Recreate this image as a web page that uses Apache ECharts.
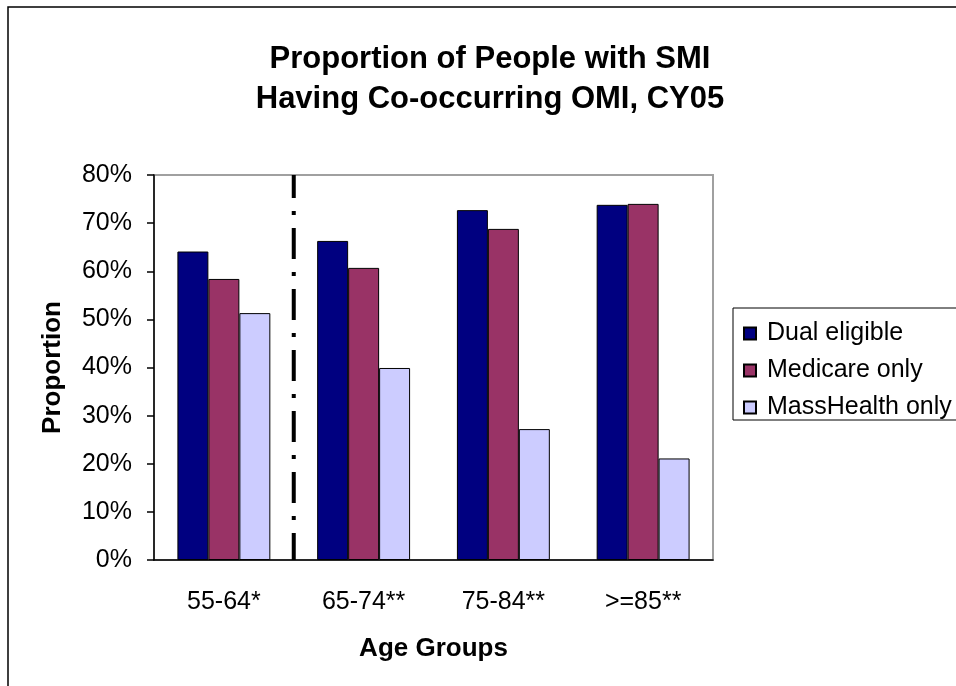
<!DOCTYPE html>
<html>
<head>
<meta charset="utf-8">
<script src="https://cdn.jsdelivr.net/npm/echarts@6/dist/echarts.min.js"></script>
<style>
  html, body { margin: 0; padding: 0; background: #fff; }
  #chart { width: 956px; height: 686px; }
</style>
</head>
<body>
<div id="chart"></div>
<script>
const categories = ['55-64*', '65-74**', '75-84**', '>=85**']
const dualEligible = [0.641, 0.663, 0.727, 0.738]
const medicareOnly = [0.584, 0.607, 0.688, 0.740]
const massHealthOnly = [0.513, 0.399, 0.272, 0.211]
const seriesNames = ['Dual eligible', 'Medicare only', 'MassHealth only']
const yTicks = [0, 0.1, 0.2, 0.3, 0.4, 0.5, 0.6, 0.7, 0.8]
// divider sits on the boundary after the first age group
const dividerAt = 1

const font = 'Liberation Sans, Arial, sans-serif'
const yMax = yTicks[yTicks.length - 1]

const chart = echarts.init(document.getElementById('chart'))

function barSeries(name, data, color) {
  return {
    name: name,
    type: 'bar',
    data: data,
    barGap: '0%',
    barCategoryGap: '33.5%',
    itemStyle: { color: color, borderColor: '#000', borderWidth: 1 },
  }
}

const option = {
  animation: false,
  backgroundColor: '#fff',
  title: {
    text: 'Proportion of People with SMI\nHaving Co-occurring OMI, CY05',
    left: 490,
    top: 39,
    padding: 0,
    textAlign: 'center',
    textStyle: { fontFamily: font, fontSize: 31, fontWeight: 'bold', color: '#000', lineHeight: 40 },
  },
  graphic: [
    {
      type: 'rect',
      shape: { x: 8, y: 7, width: 1200, height: 1000 },
      style: { fill: 'none', stroke: '#000', lineWidth: 1.5 },
      silent: true,
    },
  ],
  legend: {
    data: seriesNames,
    orient: 'vertical',
    left: 733,
    top: 308,
    padding: [13, 40, 0, 10],
    itemGap: 12,
    itemWidth: 12,
    itemHeight: 12,
    borderColor: '#000',
    borderWidth: 1,
    icon: 'rect',
    textStyle: { fontFamily: font, fontSize: 25, color: '#000', padding: [0, 0, 0, 6] },
  },
  grid: {
    left: 154,
    top: 175,
    width: 559,
    height: 385,
    show: true,
    borderColor: '#a0a0a0',
    borderWidth: 2,
    backgroundColor: '#fff',
  },
  xAxis: [
    {
      type: 'category',
      data: categories,
      name: 'Age Groups',
      nameLocation: 'middle',
      nameGap: 76,
      nameTextStyle: { fontFamily: font, fontSize: 26, fontWeight: 'bold', color: '#000' },
      axisLine: { lineStyle: { color: '#000', width: 1.5 } },
      axisTick: { length: 9, lineStyle: { color: '#000', width: 1.5 } },
      axisLabel: { fontFamily: font, fontSize: 25, color: '#000', margin: 30 },
    },
    {
      type: 'value',
      min: 0,
      max: categories.length,
      show: false,
    },
  ],
  yAxis: {
    type: 'value',
    min: 0,
    max: yMax,
    interval: 0.1,
    name: 'Proportion',
    nameLocation: 'middle',
    nameGap: 88,
    nameTextStyle: { fontFamily: font, fontSize: 26, fontWeight: 'bold', color: '#000' },
    axisLine: { show: true, lineStyle: { color: '#000', width: 1.5 } },
    axisTick: { show: true, length: 7, lineStyle: { color: '#000', width: 1.5 } },
    splitLine: { show: false },
    axisLabel: {
      fontFamily: font,
      fontSize: 25,
      color: '#000',
      margin: 22,
      formatter: (v) => Math.round(v * 100) + '%',
    },
  },
  series: [
    barSeries(seriesNames[0], dualEligible, '#000080'),
    barSeries(seriesNames[1], medicareOnly, '#993366'),
    barSeries(seriesNames[2], massHealthOnly, '#ccccff'),
    {
      name: 'divider',
      type: 'line',
      xAxisIndex: 1,
      data: [[dividerAt, yMax], [dividerAt, 0]],
      symbol: 'none',
      silent: true,
      z: 5,
      lineStyle: { color: '#000', width: 4, type: [31, 13, 4, 13], dashOffset: 8 },
    },
  ],
}

chart.setOption(option)
</script>
</body>
</html>
